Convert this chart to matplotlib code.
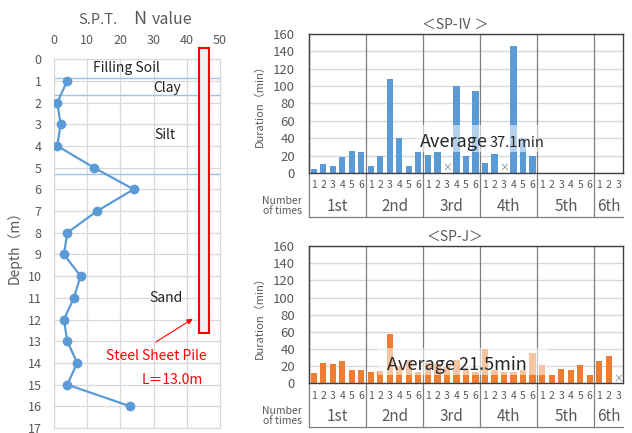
import numpy as np
import matplotlib.pyplot as plt
from matplotlib.patches import Rectangle

plt.rcParams['font.family'] = ['Noto Sans CJK JP', 'DejaVu Sans']

# --- S.P.T. boring log (left panel) ---
depth = [1, 2, 3, 4, 5, 6, 7, 8, 9, 10, 11, 12, 13, 14, 15, 16]
n_value = [4, 1, 2, 1, 12, 24, 13, 4, 3, 8, 6, 3, 4, 7, 4, 23]
layer_bounds = [0.85, 1.65, 5.3]
layer_names = ['Filling Soil', 'Clay', 'Silt', 'Sand']
layer_n = [21.7, 34, 33.4, 33.7]
layer_depth = [0.42, 1.35, 3.5, 11.0]
pile_top = -0.5
pile_bottom = 12.6

# --- Driving duration per pile (right panels) ---
groups = ['1st', '2nd', '3rd', '4th', '5th', '6th']
group_size = [6, 6, 6, 6, 6, 3]
# None = not measured (drawn as a cross)
sp4 = [5, 10, 8, 18, 25, 24,
       8, 20, 108, 40, 8, 24,
       21, 24, None, 100, 20, 94,
       11, 22, None, 146, 40, 19]
spj = [12, 24, 23, 26, 15, 16,
       13, 14, 58, 20, 27, 13,
       24, 22, 20, 27, 17, 13,
       40, 15, 13, 13, 15, 35,
       21, 10, 17, 16, 21, 10,
       26, 32, None]

GRAY = '#595959'
GRID = '#d9d9d9'
BLUE = '#5b9bd5'
ORANGE = '#ed7d31'

fig = plt.figure(figsize=(6.32, 4.33), dpi=100)

# ---------------- left: N value profile ----------------
ax = fig.add_axes([0.0854, 0.0115, 0.2627, 0.852])
ax.set_xlim(0, 50)
ax.set_ylim(17, 0)
ax.set_xticks(range(0, 51, 10))
ax.set_yticks(range(0, 18))
ax.xaxis.tick_top()
ax.tick_params(length=0, colors=GRAY, labelsize=9)
ax.tick_params(axis='x', pad=9)
ax.tick_params(axis='y', pad=9)
ax.grid(color=GRID, lw=0.9)
ax.set_axisbelow(True)
for s in ax.spines.values():
    s.set_color(GRID)
for b in layer_bounds:
    ax.axhline(b, color='#9dc3e6', lw=1)
ax.plot(n_value, depth, color=BLUE, lw=1.6, marker='o', ms=6, zorder=3)
for name, xn, yd in zip(layer_names, layer_n, layer_depth):
    ax.text(xn, yd, name, ha='center', va='center', fontsize=10, color='#222222')
ax.add_patch(Rectangle((43.7, pile_top), 3.0, pile_bottom - pile_top,
                       facecolor='#f0f0f0', edgecolor='#ff0000', lw=1.5,
                       clip_on=False, zorder=4))
ax.annotate('', xy=(42.5, 11.9), xytext=(30, 13.1),
            arrowprops=dict(arrowstyle='-|>', color='#ff0000', lw=0.8,
                            mutation_scale=8))
ax.text(30.9, 13.7, 'Steel Sheet Pile', color='#ff0000', fontsize=10,
        ha='center', va='center')
ax.text(35.5, 14.8, 'L＝13.0m', color='#ff0000', fontsize=10,
        ha='center', va='center')
ax.set_ylabel('Depth（m）', color=GRAY, fontsize=10, labelpad=4)
fig.text(78 / 632, 1 - 20 / 433, 'S.P.T.', fontsize=10.5, color=GRAY,
         ha='left', va='center')
fig.text(133 / 632, 1 - 19 / 433, 'N', fontsize=13, color=GRAY,
         ha='left', va='center')
fig.text(152 / 632, 1 - 20 / 433, 'value', fontsize=11.5, color=GRAY,
         ha='left', va='center')


# ---------------- right: duration bar charts ----------------
def bar_panel(rect, vals, color, title, avg_box, avg_texts):
    ax = fig.add_axes(rect)
    n_slots = sum(group_size)
    x = np.arange(len(vals))
    ok = [v is not None for v in vals]
    ax.bar(x[ok], [v for v in vals if v is not None], width=0.65,
           color=color, zorder=2)
    for xi, v in zip(x, vals):
        if v is None:
            ax.text(xi, 6, '×', ha='center', va='center', fontsize=7,
                    color='#7f7f7f')
    ax.set_xlim(-0.5, n_slots - 0.5)
    ax.set_ylim(0, 160)
    ax.set_yticks(range(0, 161, 20))
    ax.set_xticks([])
    ax.tick_params(length=0, colors=GRAY, labelsize=9.5, pad=10)
    ax.yaxis.grid(color=GRID, lw=1)
    ax.set_axisbelow(True)
    for s in ax.spines.values():
        s.set_color('#404040')
        s.set_linewidth(1)
    ax.set_ylabel('Duration（min）', color=GRAY, fontsize=8, labelpad=6)
    ax.set_title(title, fontsize=10, color=GRAY, pad=4, x=0.465)

    # multi-level category axis
    trans = ax.get_xaxis_transform()
    start = -0.5
    for g, size in zip(groups, group_size):
        ax.plot([start, start], [1, -0.32], color='#7f7f7f', lw=0.9,
                transform=trans, clip_on=False)
        for k in range(size):
            ax.text(start + 0.5 + k, -0.09, str(k + 1), transform=trans,
                    ha='center', va='center', fontsize=7.5, color=GRAY)
        ax.text(start + size / 2, -0.24, g, transform=trans, ha='center',
                va='center', fontsize=11, color=GRAY)
        start += size
    ax.plot([-0.5, n_slots - 0.5], [-0.32, -0.32], color='#7f7f7f', lw=0.9,
            transform=trans, clip_on=False)
    ax.text(-0.022, -0.24, 'Number\nof times', transform=ax.transAxes,
            ha='right', va='center', fontsize=7.5, color=GRAY,
            linespacing=1.0)

    # average label with translucent box
    x0, x1, y0, y1 = avg_box
    ax.add_patch(Rectangle((x0, y0), x1 - x0, y1 - y0, facecolor='white',
                           edgecolor='none', alpha=0.55, zorder=3))
    for txt, tx, ty, fs, ha in avg_texts:
        ax.text(tx, ty, txt, ha=ha, va='center', fontsize=fs,
                color='#262626', zorder=4)
    return ax


bar_panel([0.4889, 0.6005, 0.4968, 0.321], sp4, BLUE, '＜SP-Ⅳ ＞',
          (10.6, 23.6, 24, 55),
          [('Average', 18.3, 36, 13, 'right'),
           ('37.1min', 18.5, 34.5, 10.5, 'left')])
bar_panel([0.4889, 0.1148, 0.4968, 0.317], spj, ORANGE, '＜SP-J＞',
          (6.8, 24.5, 9.7, 41),
          [('Average 21.5min', 7.7, 21, 13, 'left')])

fig.savefig('out.png', dpi=100)
